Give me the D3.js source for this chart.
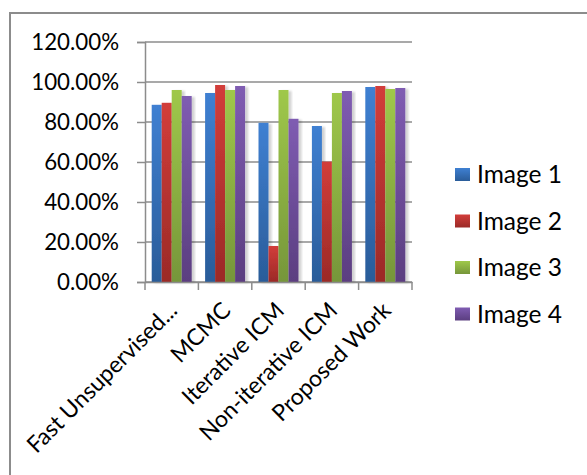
<!DOCTYPE html>
<html>
<head>
<meta charset="utf-8">
<script src="https://cdn.jsdelivr.net/npm/d3@7"></script>
<style>
  html, body { margin: 0; padding: 0; background: #fff; }
  svg { display: block; }
  text { font-family: Lato, "Open Sans", sans-serif; fill: #000; }
</style>
</head>
<body>
<svg id="chart" width="587" height="475"></svg>
<script>
// Segmentation accuracy per method and test image
const categories = ["Fast Unsupervised...", "MCMC", "Iterative ICM", "Non-iterative ICM", "Proposed Work"];
const seriesNames = ["Image 1", "Image 2", "Image 3", "Image 4"];
const image1 = [88.6, 94.5, 79.6, 78.0, 97.5];
const image2 = [89.6, 98.5, 18.0, 60.2, 98.0];
const image3 = [96.0, 96.0, 96.0, 94.5, 96.5];
const image4 = [93.0, 98.0, 81.6, 95.5, 97.0];
const yTicks = [0, 20, 40, 60, 80, 100, 120];

const seriesValues = [image1, image2, image3, image4];
// gradient stops (top, bottom) per series
const seriesColors = [
  ["#3f80d2", "#2a5c99"],
  ["#d23d3a", "#9b2a27"],
  ["#9fc84a", "#76963a"],
  ["#7f5cb2", "#5b3e80"]
];

const svg = d3.select("#chart");
const defs = svg.append("defs");

seriesColors.forEach((c, i) => {
  const g = defs.append("linearGradient")
    .attr("id", "grad" + i)
    .attr("x1", 0).attr("y1", 0).attr("x2", 0).attr("y2", 1);
  g.append("stop").attr("offset", "0%").attr("stop-color", c[0]);
  g.append("stop").attr("offset", "100%").attr("stop-color", c[1]);
});

const shadow = defs.append("filter").attr("id", "barShadow")
  .attr("x", "-20%").attr("y", "-5%").attr("width", "160%").attr("height", "115%");
shadow.append("feDropShadow")
  .attr("dx", 3).attr("dy", 1).attr("stdDeviation", 1.2)
  .attr("flood-color", "#000").attr("flood-opacity", 0.18);

// outer chart frame (open at right and bottom)
svg.append("path")
  .attr("d", "M10,475 L10,13 L587,13")
  .attr("fill", "none").attr("stroke", "#8c8c8c").attr("stroke-width", 2);

const plot = { left: 145, right: 412, top: 42, bottom: 282 };

const y = d3.scaleLinear().domain([0, 120]).range([plot.bottom, plot.top]);
const x0 = d3.scaleBand().domain(categories).range([plot.left, plot.right]).padding(0);
const x1 = d3.scaleBand().domain(d3.range(seriesNames.length))
  .range([0, x0.bandwidth()]).paddingInner(0).paddingOuter(0.67);

// horizontal gridlines
svg.append("g").selectAll("line")
  .data(yTicks)
  .join("line")
  .attr("x1", plot.left).attr("x2", plot.right)
  .attr("y1", d => y(d)).attr("y2", d => y(d))
  .attr("stroke", "#8c8c8c").attr("stroke-width", 1.5);

// y axis
const yAxis = svg.append("g")
  .attr("transform", `translate(${plot.left},0)`)
  .call(d3.axisLeft(y).tickValues(yTicks).tickSize(8).tickPadding(18)
    .tickFormat(d => d.toFixed(2) + "%"));
yAxis.select(".domain").attr("stroke", "#8c8c8c").attr("stroke-width", 1.5);
yAxis.selectAll(".tick line").attr("stroke", "#8c8c8c").attr("stroke-width", 1.5);
yAxis.selectAll(".tick text").attr("font-size", 22.3).attr("font-family", "Lato").attr("fill", "#000");

// bars
const groups = svg.append("g").selectAll("g")
  .data(categories)
  .join("g")
  .attr("transform", d => `translate(${x0(d)},0)`);

groups.selectAll("rect")
  .data((d, ci) => seriesValues.map((vals, si) => ({ si, v: vals[ci] })))
  .join("rect")
  .attr("x", d => x1(d.si))
  .attr("width", x1.bandwidth())
  .attr("y", d => y(d.v))
  .attr("height", d => y(0) - y(d.v))
  .attr("fill", d => `url(#grad${d.si})`)
  .attr("filter", "url(#barShadow)");

// x axis
const xAxis = svg.append("g")
  .attr("transform", `translate(0,${plot.bottom})`)
  .call(d3.axisBottom(x0).tickSize(0).tickPadding(0));
xAxis.select(".domain").attr("stroke", "#8c8c8c").attr("stroke-width", 1.5);
// category boundary ticks
xAxis.selectAll(".bound")
  .data(d3.range(categories.length + 1))
  .join("line")
  .attr("class", "bound")
  .attr("x1", i => plot.left + i * x0.step())
  .attr("x2", i => plot.left + i * x0.step())
  .attr("y1", 0).attr("y2", 8)
  .attr("stroke", "#8c8c8c").attr("stroke-width", 1.5);
xAxis.selectAll(".tick text")
  .attr("font-size", 23).attr("font-family", "Lato").attr("fill", "#000")
  .attr("text-anchor", "end")
  .attr("dy", 0)
  .attr("transform", "translate(7,30) rotate(-45)");

// legend
const legend = svg.append("g").attr("transform", "translate(455,175)");
const rows = legend.selectAll("g")
  .data(seriesNames)
  .join("g")
  .attr("transform", (d, i) => `translate(0,${i * 46.5})`);
rows.append("rect")
  .attr("x", 0).attr("y", -7).attr("width", 15).attr("height", 13)
  .attr("fill", (d, i) => `url(#grad${i})`);
rows.append("text")
  .attr("x", 22).attr("y", 8)
  .attr("font-size", 24.5)
  .text(d => d);
</script>
</body>
</html>
